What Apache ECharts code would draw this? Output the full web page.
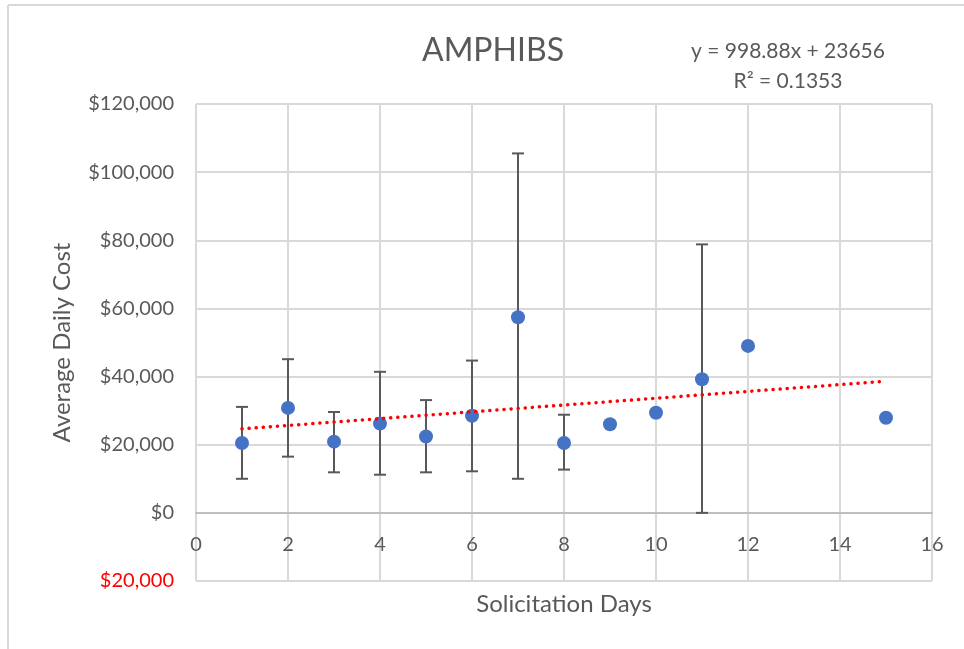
<!DOCTYPE html>
<html>
<head>
<meta charset="utf-8">
<script src="https://cdn.jsdelivr.net/npm/echarts@6/dist/echarts.min.js"></script>
<style>
html,body{margin:0;padding:0;background:#fff;}
#chart{width:964px;height:649px;}
</style>
</head>
<body>
<div id="chart"></div>
<script>
// ---- data ----
const days = [1, 2, 3, 4, 5, 6, 7, 8, 9, 10, 11, 12, 15];
const avgCost = [20500, 30800, 20900, 26200, 22400, 28500, 57400, 20500, 26000, 29400, 39200, 49000, 27900];
const errLow = [10000, 16500, 11900, 11200, 11900, 12200, 10000, 12700, null, null, 0, null, null];
const errHigh = [31100, 45100, 29600, 41400, 33100, 44700, 105500, 28800, null, null, 78800, null, null];
const trendSlope = 998.88;
const trendIntercept = 23656;
const trendR2 = 0.1353;
const trendRange = [1, 15];
const yTicks = [-20000, 0, 20000, 40000, 60000, 80000, 100000, 120000];
const xTicks = [0, 2, 4, 6, 8, 10, 12, 14, 16];

// ---- build ----
const FONT = 'Lato';
const TXT = '#595959';
const pts = days.map((d, i) => [d, avgCost[i]]);
const errData = [];
days.forEach((d, i) => {
  if (errLow[i] !== null && errHigh[i] !== null) errData.push([d, errLow[i], errHigh[i]]);
});
const trendData = trendRange.map(x => [x, trendSlope * x + trendIntercept]);

const chart = echarts.init(document.getElementById('chart'));
chart.setOption({
  backgroundColor: '#fff',
  animation: false,
  title: [
    {
      text: 'AMPHIBS', left: 488, top: 30, textAlign: 'center',
      textStyle: {fontFamily: FONT, fontSize: 32, fontWeight: 'normal', color: TXT}
    },
    {
      text: 'y = ' + trendSlope + 'x + ' + trendIntercept + '\nR² = ' + trendR2,
      left: 783, top: 31, textAlign: 'center',
      textStyle: {fontFamily: FONT, fontSize: 21, fontWeight: 'normal', color: TXT, lineHeight: 30, align: 'center'}
    }
  ],
  graphic: [
    {type: 'line', shape: {x1: 8, y1: 5, x2: 964, y2: 5}, style: {stroke: '#d9d9d9', lineWidth: 2}},
    {type: 'line', shape: {x1: 8, y1: 5, x2: 8, y2: 649}, style: {stroke: '#d9d9d9', lineWidth: 2}}
  ],
  grid: {left: 196, right: 32, top: 104, bottom: 68, containLabel: false, outerBoundsMode: 'none'},
  xAxis: {
    type: 'value', min: xTicks[0], max: xTicks[xTicks.length - 1], interval: 2,
    name: 'Solicitation Days', nameLocation: 'middle', nameGap: 11,
    nameTextStyle: {fontFamily: FONT, fontSize: 24, color: TXT},
    axisLine: {show: true, onZero: true, lineStyle: {color: '#bfbfbf', width: 2}},
    axisTick: {show: false},
    axisLabel: {fontFamily: FONT, fontSize: 20, color: TXT, margin: -46},
    splitLine: {show: true, lineStyle: {color: '#d9d9d9', width: 2}}
  },
  yAxis: {
    type: 'value', min: yTicks[0], max: yTicks[yTicks.length - 1], interval: 20000,
    name: 'Average Daily Cost', nameLocation: 'middle', nameGap: 122,
    nameTextStyle: {fontFamily: FONT, fontSize: 24, color: TXT},
    axisLine: {show: false},
    axisTick: {show: false},
    axisLabel: {
      margin: 22,
      formatter: v => {
        const s = '$' + Math.abs(v).toLocaleString('en-US');
        return v < 0 ? '{neg|' + s + '}' : '{pos|' + s + '}';
      },
      rich: {
        pos: {fontFamily: FONT, fontSize: 20, color: TXT},
        neg: {fontFamily: FONT, fontSize: 20, color: '#ff0000'}
      }
    },
    splitLine: {show: true, lineStyle: {color: '#d9d9d9', width: 2}}
  },
  series: [
    {
      type: 'custom', name: 'Error', z: 1,
      data: errData,
      renderItem: function (params, api) {
        const x = api.value(0);
        const lo = api.coord([x, api.value(1)]);
        const hi = api.coord([x, api.value(2)]);
        const h = 6;
        const st = {stroke: '#595959', lineWidth: 2};
        return {
          type: 'group',
          children: [
            {type: 'line', shape: {x1: hi[0], y1: hi[1], x2: lo[0], y2: lo[1]}, style: st},
            {type: 'line', shape: {x1: hi[0] - h, y1: hi[1], x2: hi[0] + h, y2: hi[1]}, style: st},
            {type: 'line', shape: {x1: lo[0] - h, y1: lo[1], x2: lo[0] + h, y2: lo[1]}, style: st}
          ]
        };
      }
    },
    {
      type: 'scatter', name: 'Average Daily Cost', z: 2,
      data: pts, symbolSize: 14,
      itemStyle: {color: '#4472c4', opacity: 1}
    },
    {
      type: 'line', name: 'Trend', z: 3,
      data: trendData, symbol: 'none',
      lineStyle: {color: '#ff0000', width: 3.5, type: [0.1, 7], cap: 'round'}
    }
  ]
});
</script>
</body>
</html>
